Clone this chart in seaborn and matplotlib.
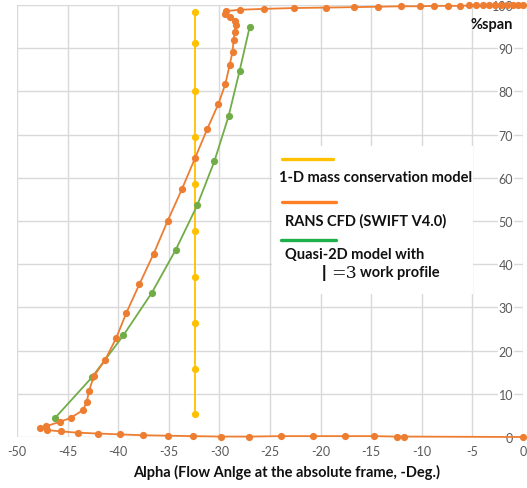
import numpy as np
import pandas as pd
import matplotlib
matplotlib.use("Agg")
import matplotlib.pyplot as plt
import seaborn as sns
from matplotlib.lines import Line2D
from matplotlib.patches import Rectangle

# ---- data ----
yellow_alpha = [-32.4] * 10
yellow_span = [5.3, 15.7, 26.4, 37.0, 47.7, 58.5, 69.4, 80.1, 91.2, 98.4]

orange_alpha = [0.0, -11.8, -12.5, -14.7, -17.6, -20.8, -23.9, -27.1, -29.8, -32.6,
                -35.1, -37.5, -39.8, -42.0, -44.0, -45.7, -47.0, -47.7, -47.1, -45.8,
                -44.7, -43.5, -43.1, -42.9, -42.4, -41.3, -40.2, -39.2, -37.9, -36.5,
                -35.1, -33.7, -32.4, -31.2, -30.1, -29.4, -29.0, -28.7, -28.6, -28.5,
                -28.4, -28.5, -29.0, -29.4, -29.3, -28.0, -25.6, -22.6, -19.5, -16.7,
                -14.3, -12.1, -10.2, -8.8, -7.4, -6.2, -5.3, -4.6, -4.0, -3.4,
                -2.8, -2.2, -1.6, -1.0, -0.5, 0.0]
orange_span = [0.0, 0.1, 0.1, 0.2, 0.2, 0.2, 0.2, 0.1, 0.1, 0.2,
               0.3, 0.4, 0.6, 0.8, 1.0, 1.3, 1.6, 2.1, 2.5, 3.5,
               4.4, 6.2, 8.1, 10.6, 14.1, 17.8, 22.9, 28.7, 35.4, 42.4,
               50.1, 57.4, 64.6, 71.3, 77.1, 81.8, 86.0, 89.2, 91.8, 93.7,
               95.4, 96.4, 97.3, 97.9, 98.6, 98.9, 99.1, 99.3, 99.4, 99.5,
               99.6, 99.7, 99.7, 99.8, 99.8, 99.8, 99.9, 99.9, 99.9, 99.9,
               100.0, 100.0, 100.0, 100.0, 100.0, 100.0]

green_alpha = [-46.2, -42.6, -39.5, -36.7, -34.3, -32.2, -30.5, -29.1, -28.0, -27.0]
green_span = [4.5, 13.8, 23.5, 33.3, 43.4, 53.6, 63.8, 74.2, 84.8, 95.0]

x_ticks = [-50, -45, -40, -35, -30, -25, -20, -15, -10, -5, 0]
y_ticks = [0, 10, 20, 30, 40, 50, 60, 70, 80, 90, 100]

legend_labels = ["1-D mass conservation model", "RANS CFD (SWIFT V4.0)", "Quasi-2D model with"]
xlabel = "Alpha (Flow Anlge at the absolute frame, -Deg.)"
ylabel = "%span"

# ---- style ----
sns.set_theme(style="whitegrid")
plt.rcParams['font.family'] = ['Lato', 'DejaVu Sans']

W, H = 527, 489
fig = plt.figure(figsize=(W / 100, H / 100), dpi=100)
L, R, T, B = 17, 523, 6, 438
ax = fig.add_axes([L / W, 1 - B / H, (R - L) / W, (B - T) / H])

c_yellow = "#FFC000"
c_orange = "#ED7D31"
c_green = "#70AD47"

df_y = pd.DataFrame({"alpha": yellow_alpha, "span": yellow_span})
df_o = pd.DataFrame({"alpha": orange_alpha, "span": orange_span})
df_g = pd.DataFrame({"alpha": green_alpha, "span": green_span})

kw = dict(marker="o", markersize=5.2, linewidth=1.3, markeredgewidth=0,
          sort=False, estimator=None, ax=ax, legend=False, clip_on=False)
sns.lineplot(data=df_y, x="alpha", y="span", color=c_yellow, zorder=3, **kw)
sns.lineplot(data=df_g, x="alpha", y="span", color=c_green, zorder=4, **kw)
sns.lineplot(data=df_o, x="alpha", y="span", color=c_orange, zorder=5, **kw)

ax.set_xlim(-50, 0)
ax.set_ylim(0, 100)
ax.set_xticks(x_ticks)
ax.set_yticks(y_ticks)
ax.set_xticklabels([str(v) for v in x_ticks])
ax.set_yticklabels([str(v) for v in y_ticks])
ax.grid(True, color="#D9D9D9", linewidth=1.0)
ax.set_axisbelow(True)
ax.set_facecolor("white")

for s in ["top", "right", "bottom"]:
    ax.spines[s].set_visible(False)
ax.spines["left"].set_position(("data", 0))
ax.spines["left"].set_visible(False)

ax.tick_params(axis="y", length=0, pad=7, labelsize=9, labelcolor="#595959")
ax.tick_params(axis="x", length=0, pad=6, labelsize=9, labelcolor="#595959")
for lab in ax.get_yticklabels():
    lab.set_bbox(dict(facecolor="white", edgecolor="none", pad=0.6))
ax.set_xlabel("")
ax.set_ylabel("")

# axis titles
fig.text(287 / W, 1 - 472 / H, xlabel, ha="center", va="center",
         fontsize=10.5, fontweight="bold", color="#111111")
fig.text(513 / W, 1 - 25 / H, ylabel, ha="right", va="center",
         fontsize=10.5, fontweight="bold", color="#111111")

# legend box (custom, line above label)
def fx(px):
    return px / W

def fy(py):
    return 1 - py / H

fig.patches.append(Rectangle((fx(272), fy(295)), fx(473) - fx(272), fy(147) - fy(295),
                             transform=fig.transFigure, facecolor="white",
                             edgecolor="none", zorder=6))
handles = [(282, 333, 160, "#FFC000"), (282, 336, 203, "#FF7F27"), (281, 336, 241, "#1DB04A")]
for x0, x1, yy, c in handles:
    fig.lines.append(Line2D([fx(x0), fx(x1)], [fy(yy), fy(yy)], transform=fig.transFigure,
                            color=c, linewidth=2.4, zorder=7))
fig.text(fx(279), fy(178), legend_labels[0], ha="left", va="center", fontsize=10.5,
         fontweight="bold", color="#111111", zorder=8)
fig.text(fx(285), fy(221), legend_labels[1], ha="left", va="center", fontsize=10.5,
         fontweight="bold", color="#111111", zorder=8)
fig.text(fx(285), fy(255), legend_labels[2], ha="left", va="center", fontsize=10.5,
         fontweight="bold", color="#111111", zorder=8)
fig.text(fx(322), fy(273), "|", ha="left", va="center", fontsize=12,
         fontweight="heavy", color="#111111", zorder=8)
fig.text(fx(331), fy(273), "=3", ha="left", va="center", fontsize=12.5,
         family="DejaVu Serif", color="#111111", zorder=8)
fig.text(fx(360), fy(273), "work profile", ha="left", va="center", fontsize=10.5,
         fontweight="bold", color="#111111", zorder=8)

fig.savefig("out.png", dpi=100, facecolor="white")
